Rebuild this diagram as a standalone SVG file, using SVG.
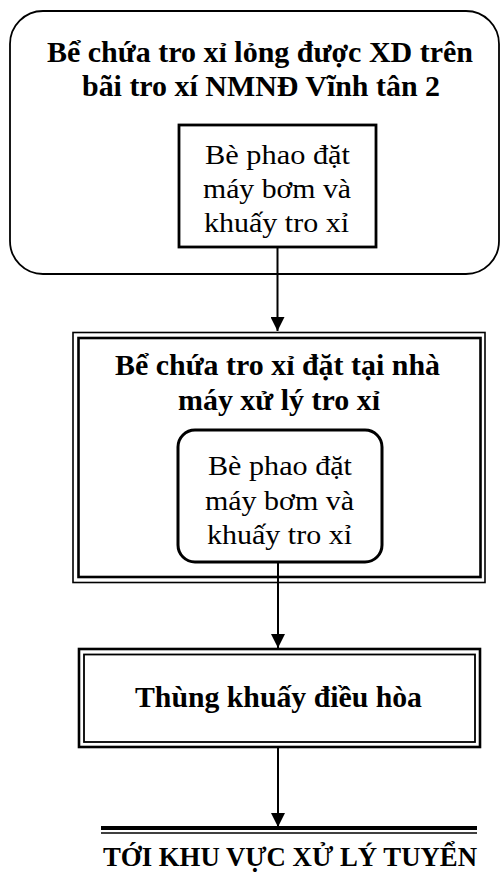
<svg xmlns="http://www.w3.org/2000/svg" width="501" height="876" viewBox="0 0 501 876">
<style>
.b{font-family:"Liberation Serif","Times New Roman",serif;font-weight:bold;fill:#000;text-anchor:middle;font-size:30px}
.r{font-family:"Liberation Serif","Times New Roman",serif;fill:#000;text-anchor:middle;font-size:28px}
.s{fill:none;stroke:#000}
</style>
<defs>
<marker id="ah" viewBox="0 0 14 14" refX="14" refY="7" markerWidth="14" markerHeight="14" markerUnits="userSpaceOnUse" orient="auto">
<path d="M0,0 L14,7 L0,14 Z" fill="#000"/>
</marker>
<clipPath id="c1"><rect x="179" y="125" width="197" height="121"/></clipPath>
<clipPath id="c2"><rect x="178" y="430" width="204" height="132"/></clipPath>
</defs>
<rect width="501" height="876" fill="#fff"/>
<g id="node-top">
<rect class="s" x="10" y="11" width="489" height="263" rx="33" ry="33" stroke-width="1.8"/>
<text class="b" x="260" y="62" textLength="426" lengthAdjust="spacingAndGlyphs">Bể chứa tro xỉ lỏng được XD trên</text>
<text class="b" x="261" y="96" textLength="358" lengthAdjust="spacingAndGlyphs">bãi tro xí NMNĐ Vĩnh tân 2</text>
</g>
<g id="node-raft1">
<rect x="179" y="125" width="197" height="122" fill="#fff" stroke="#000" stroke-width="2.8"/>
<g clip-path="url(#c1)">
<text class="r" x="277.5" y="164" textLength="145" lengthAdjust="spacingAndGlyphs">Bè phao đặt</text>
<text class="r" x="277" y="198" textLength="148" lengthAdjust="spacingAndGlyphs">máy bơm và</text>
<text class="r" x="276.5" y="232" textLength="145" lengthAdjust="spacingAndGlyphs">khuấy tro xỉ</text>
</g>
</g>
<g id="node-tank">
<rect class="s" x="73" y="332.5" width="412" height="250" stroke-width="1.6"/>
<rect class="s" x="78.5" y="338" width="402" height="239" stroke-width="2.6"/>
<text class="b" x="277.5" y="375" textLength="325" lengthAdjust="spacingAndGlyphs">Bể chứa tro xỉ đặt tại nhà</text>
<text class="b" x="279" y="410" textLength="202" lengthAdjust="spacingAndGlyphs">máy xử lý tro xỉ</text>
</g>
<g id="node-raft2">
<rect x="178" y="430" width="204" height="132" rx="17" ry="17" fill="#fff" stroke="#000" stroke-width="3"/>
<g clip-path="url(#c2)">
<text class="r" x="280" y="475" textLength="144" lengthAdjust="spacingAndGlyphs">Bè phao đặt</text>
<text class="r" x="279.5" y="510" textLength="149" lengthAdjust="spacingAndGlyphs">máy bơm và</text>
<text class="r" x="279.5" y="544" textLength="145" lengthAdjust="spacingAndGlyphs">khuấy tro xỉ</text>
</g>
</g>
<g id="node-mixer">
<rect class="s" x="79" y="649" width="401" height="98" stroke-width="2.6"/>
<rect class="s" x="84" y="654.5" width="391" height="87.5" stroke-width="1.8"/>
<text class="b" x="278.5" y="707" textLength="287" lengthAdjust="spacingAndGlyphs">Thùng khuấy điều hòa</text>
</g>
<g id="node-dest">
<line x1="101" y1="828" x2="477" y2="828" stroke="#000" stroke-width="4"/>
<line x1="101" y1="833" x2="477" y2="833" stroke="#000" stroke-width="1.5"/>
<text class="b" x="290" y="866" style="font-size:28px" textLength="374" lengthAdjust="spacingAndGlyphs">TỚI KHU VỰC XỬ LÝ TUYỂN</text>
</g>
<g id="connectors" stroke="#000" stroke-width="2" fill="none">
<line x1="277.5" y1="248" x2="277.5" y2="331" marker-end="url(#ah)"/>
<line x1="278" y1="563" x2="278" y2="648" marker-end="url(#ah)"/>
<line x1="278" y1="747" x2="278" y2="827" marker-end="url(#ah)"/>
</g>
</svg>
